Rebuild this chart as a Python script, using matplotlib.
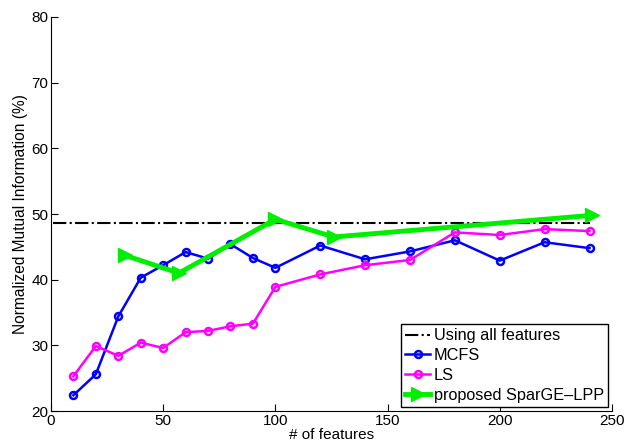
import matplotlib
matplotlib.use('Agg')
import matplotlib.pyplot as plt

plt.rcParams['font.family'] = ['Liberation Sans', 'DejaVu Sans']

# data
n_features = [10, 20, 30, 40, 50, 60, 70, 80, 90, 100, 120, 140, 160, 180, 200, 220, 240]
mcfs = [22.4, 25.6, 34.4, 40.3, 42.2, 44.2, 43.2, 45.4, 43.3, 41.8, 45.2, 43.1, 44.3, 46.0, 42.9, 45.7, 44.8]
ls = [25.3, 29.9, 28.4, 30.4, 29.6, 32.0, 32.2, 32.9, 33.3, 38.9, 40.8, 42.2, 43.0, 47.2, 46.8, 47.7, 47.4]

sparge_x = [33, 57, 100, 126, 241]
sparge = [43.7, 41.0, 49.2, 46.5, 49.8]

all_x = [1, 240]
all_features = [48.6, 48.6]

fig = plt.figure(figsize=(6.27, 4.45), dpi=100)
ax = fig.add_axes([0.0813, 0.0764, 0.8947, 0.8854])

ax.plot(all_x, all_features, '-.', color='black', lw=1.5, label='Using all features')
ax.plot(n_features, mcfs, '-o', color='blue', lw=1.8, ms=5, mfc='none', mew=1.8,
        label='MCFS')
ax.plot(n_features, ls, '-o', color='magenta', lw=1.8, ms=5, mfc='none', mew=1.8,
        label='LS')
ax.plot(sparge_x, sparge, '->', color='#00ee00', lw=3.5, ms=10,
        label='proposed SparGE\u2013LPP')

ax.set_xlim(0, 250)
ax.set_ylim(20, 80)
ax.set_xticks([0, 50, 100, 150, 200, 250])
ax.set_yticks([20, 30, 40, 50, 60, 70, 80])
ax.spines['top'].set_visible(False)
ax.spines['right'].set_visible(False)
ax.tick_params(direction='in', length=5, labelsize=11)
ax.tick_params(axis='x', pad=2)
ax.tick_params(axis='y', pad=2)

ax.set_xlabel('# of features', fontsize=11, labelpad=0)
ax.set_ylabel('Normalized Mutual Information (%)', fontsize=11.2, labelpad=2)

leg = ax.legend(loc='lower right', fontsize=11.7, handlelength=1.55, handletextpad=0.2,
                borderpad=0.25, labelspacing=0.3, borderaxespad=0.25, fancybox=False,
                framealpha=1)
leg.get_frame().set_edgecolor('black')
leg.get_frame().set_linewidth(1.0)

fig.savefig('out.png', dpi=100)
